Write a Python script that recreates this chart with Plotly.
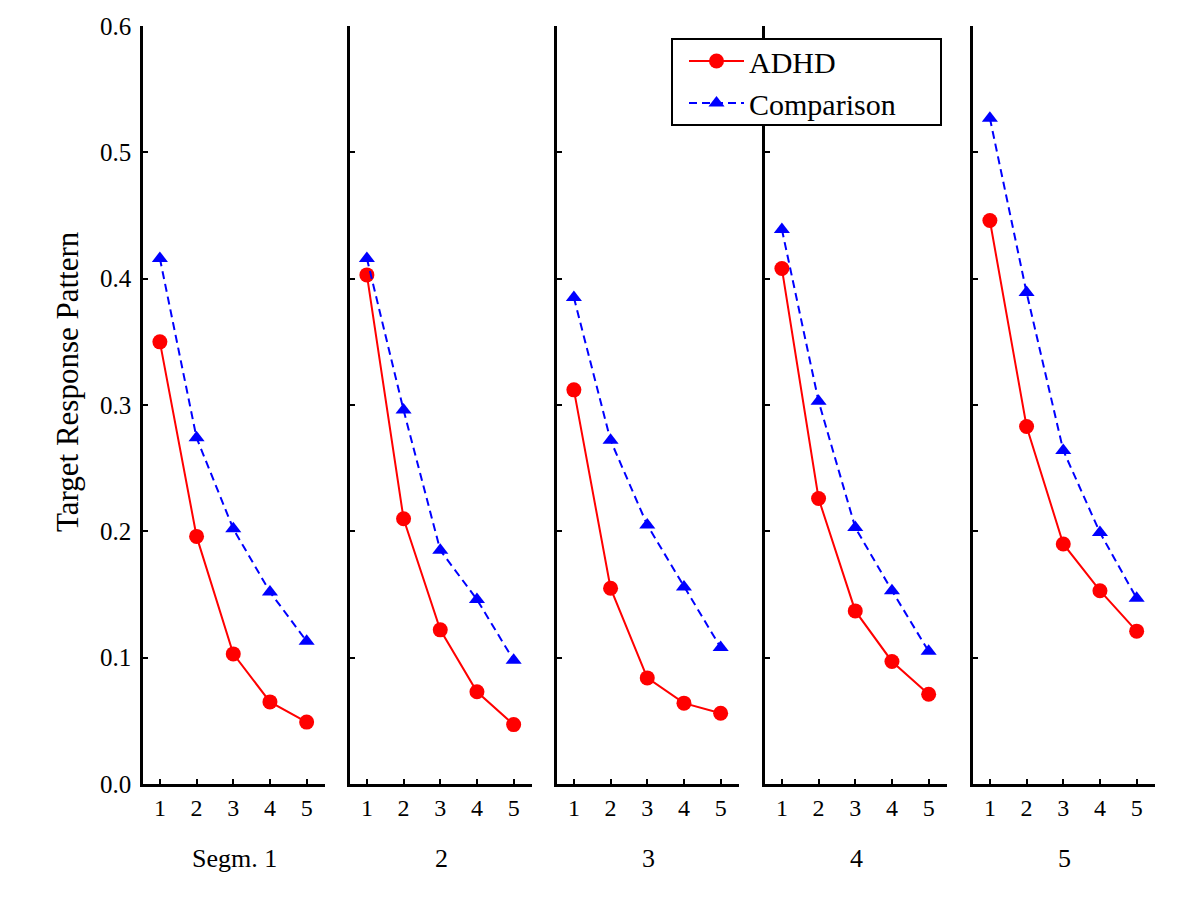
import plotly.graph_objects as go

trials = [1, 2, 3, 4, 5]
segments = ["Segm. 1", "2", "3", "4", "5"]
y_ticks = [0.0, 0.1, 0.2, 0.3, 0.4, 0.5, 0.6]
y_tick_labels = ["0.0", "0.1", "0.2", "0.3", "0.4", "0.5", "0.6"]

adhd = [
    [0.350, 0.196, 0.103, 0.065, 0.049],
    [0.403, 0.210, 0.122, 0.073, 0.047],
    [0.312, 0.155, 0.084, 0.064, 0.056],
    [0.408, 0.226, 0.137, 0.097, 0.071],
    [0.446, 0.283, 0.190, 0.153, 0.121],
]
comparison = [
    [0.416, 0.274, 0.202, 0.152, 0.113],
    [0.416, 0.296, 0.185, 0.146, 0.098],
    [0.385, 0.272, 0.205, 0.156, 0.108],
    [0.439, 0.303, 0.203, 0.153, 0.105],
    [0.527, 0.389, 0.264, 0.199, 0.147],
]

OFF = 8  # default body margin of the html page
W, H = 1200 - 2 * OFF, 908 - 2 * OFF
TOP, BOTTOM = 26 - OFF, 784 - OFF
PH = BOTTOM - TOP
panel_left_px = [143 - OFF, 350 - OFF, 557 - OFF, 765 - OFF, 973 - OFF]
panel_w_px = 182
FONT = "Liberation Serif, Times New Roman, serif"


def py(pix):
    return (BOTTOM - (pix - OFF)) / PH


def px(pix):
    return (pix - OFF) / W


fig = go.Figure()
for i in range(5):
    xa = "x" if i == 0 else f"x{i+1}"
    ya = "y" if i == 0 else f"y{i+1}"
    fig.add_trace(go.Scatter(
        x=trials, y=adhd[i], xaxis=xa, yaxis=ya, mode="lines+markers",
        name="ADHD", showlegend=(i == 0), legendgroup="adhd",
        line=dict(color="#ff0000", width=2),
        marker=dict(symbol="circle", size=15, color="#ff0000"),
    ))
    fig.add_trace(go.Scatter(
        x=trials, y=comparison[i], xaxis=xa, yaxis=ya, mode="lines+markers",
        name="Comparison", showlegend=(i == 0), legendgroup="comp",
        line=dict(color="#0000ff", width=2, dash="8px,5px"),
        marker=dict(symbol="triangle-up", size=14, color="#0000ff"),
    ))

layout = dict(
    width=W, height=H,
    margin=dict(l=0, r=0, t=TOP, b=H - BOTTOM, autoexpand=False),
    plot_bgcolor="white", paper_bgcolor="white",
    font=dict(family=FONT, color="black", size=24),
    legend=dict(
        x=px(684), y=py(35), xref="paper", yref="paper",
        xanchor="left", yanchor="top",
        borderwidth=0, bgcolor="rgba(0,0,0,0)",
        font=dict(family=FONT, size=30, color="black"),
        itemwidth=55, tracegroupgap=0,
    ),
    shapes=[dict(
        type="rect", xref="paper", yref="paper",
        x0=px(672), x1=px(941), y0=py(125), y1=py(39),
        line=dict(color="black", width=2), fillcolor="white", layer="above",
    )],
)
for i in range(5):
    key = "" if i == 0 else str(i + 1)
    x0 = panel_left_px[i] / W
    x1 = (panel_left_px[i] + panel_w_px) / W
    layout["xaxis" + key] = dict(
        domain=[x0, x1], range=[0.54, 5.5], anchor="y" + key,
        tickvals=trials, ticktext=[str(t) for t in trials],
        ticks="inside", ticklen=5, tickwidth=2, tickcolor="black",
        showline=True, linecolor="black", linewidth=2.5,
        showgrid=False, zeroline=False, ticklabelstandoff=0,
        tickfont=dict(family=FONT, size=24),
    )
    layout["yaxis" + key] = dict(
        domain=[0, 1], range=[0, 0.6], anchor="x" + key,
        tickvals=y_ticks, ticktext=y_tick_labels,
        showticklabels=(i == 0),
        ticks="inside", ticklen=5, tickwidth=2, tickcolor="black",
        showline=True, linecolor="black", linewidth=2.5,
        showgrid=False, zeroline=False, ticklabelstandoff=4,
        tickfont=dict(family=FONT, size=25),
    )
fig.update_layout(**layout)

for i, s in enumerate(segments):
    cx = (panel_left_px[i] + panel_w_px / 2) / W
    fig.add_annotation(
        x=cx, y=py(858), xref="paper", yref="paper",
        xanchor="center", yanchor="middle",
        text=s, showarrow=False, font=dict(family=FONT, size=26, color="black"),
    )
fig.add_annotation(
    x=px(68), y=py(382), xref="paper", yref="paper",
    xanchor="center", yanchor="middle",
    text="Target Response Pattern", textangle=-90, showarrow=False,
    font=dict(family=FONT, size=31, color="black"),
)

fig.write_html("out.html")
